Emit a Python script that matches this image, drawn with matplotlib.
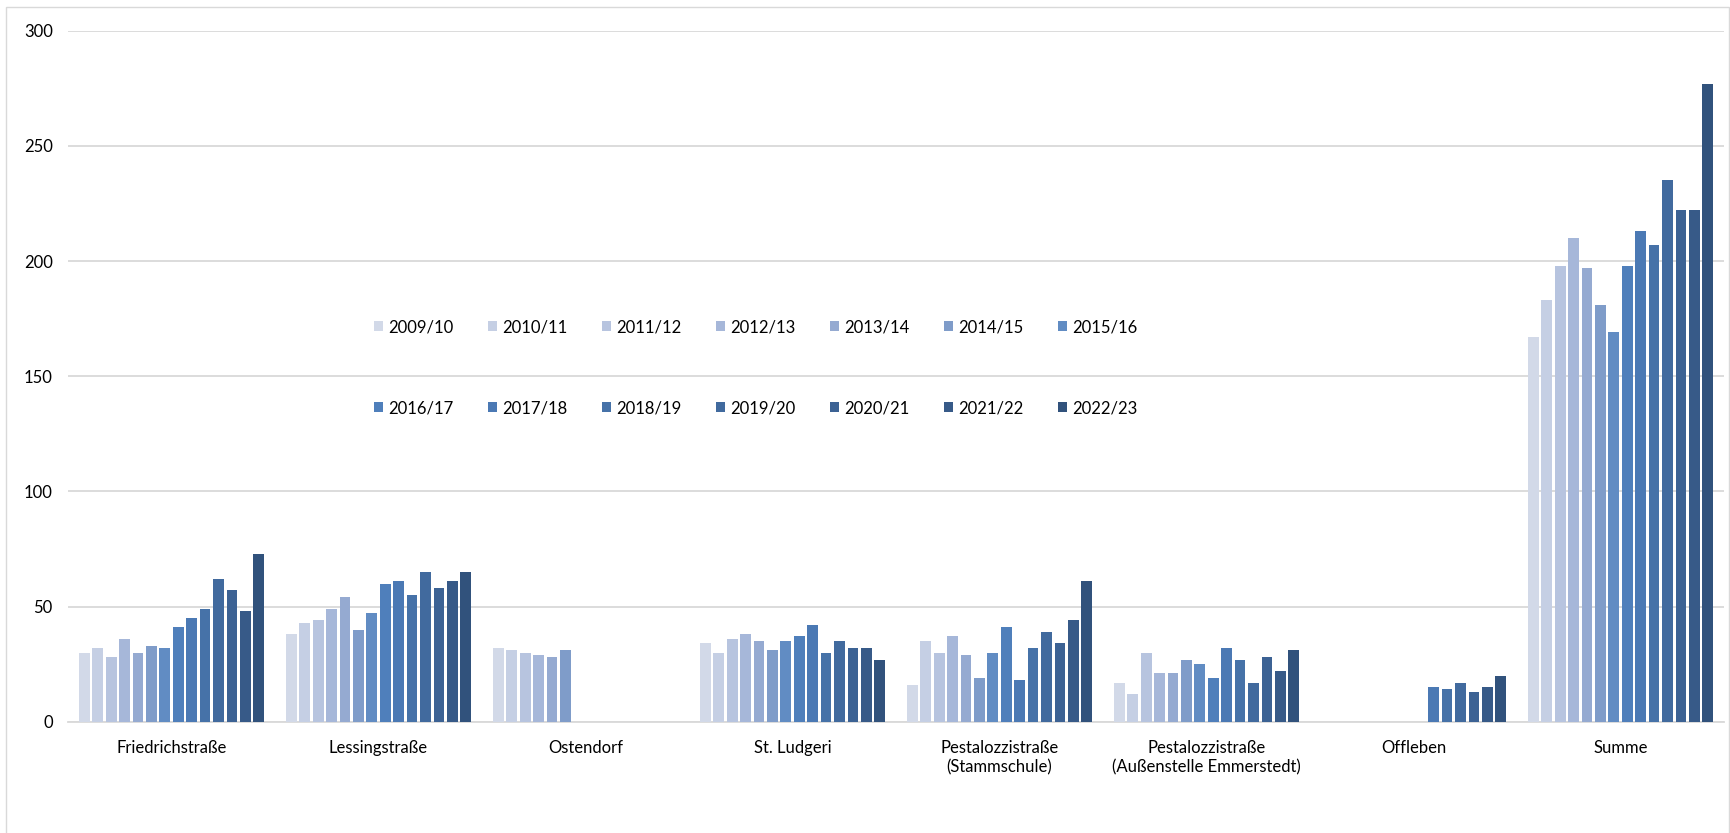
import matplotlib.pyplot as plt
import numpy as np
from matplotlib.patches import Rectangle

plt.rcParams['font.family'] = ['Liberation Sans Narrow', 'Lato', 'DejaVu Sans']

# Schulstandorte
standorte = ['Friedrichstraße', 'Lessingstraße', 'Ostendorf', 'St. Ludgeri',
             'Pestalozzistraße\n(Stammschule)',
             'Pestalozzistraße\n(Außenstelle Emmerstedt)', 'Offleben', 'Summe']

schuljahre = ['2009/10', '2010/11', '2011/12', '2012/13', '2013/14', '2014/15', '2015/16',
              '2016/17', '2017/18', '2018/19', '2019/20', '2020/21', '2021/22', '2022/23']

# Werte je Standort, ein Wert pro Schuljahr (None = kein Balken)
friedrichstrasse = [30, 32, 28, 36, 30, 33, 32, 41, 45, 49, 62, 57, 48, 73]
lessingstrasse = [38, 43, 44, 49, 54, 40, 47, 60, 61, 55, 65, 58, 61, 65]
ostendorf = [32, 31, 30, 29, 28, 31, None, None, None, None, None, None, None, None]
st_ludgeri = [34, 30, 36, 38, 35, 31, 35, 37, 42, 30, 35, 32, 32, 27]
stammschule = [16, 35, 30, 37, 29, 19, 30, 41, 18, 32, 39, 34, 44, 61]
emmerstedt = [17, 12, 30, 21, 21, 27, 25, 19, 32, 27, 17, 28, 22, 31]
offleben = [None, None, None, None, None, None, None, None, 15, 14, 17, 13, 15, 20]
summe = [167, 183, 198, 210, 197, 181, 169, 198, 213, 207, 235, 222, 222, 277]

farben = ['#D2D9E8', '#C5CFE4', '#B7C4DF', '#A6B7D9', '#95AAD1', '#7F9CC9', '#618CC3',
          '#4F7FBB', '#4B79B4', '#4672A8', '#416A9E', '#3C6294', '#375A88', '#31527C']

daten = np.array([friedrichstrasse, lessingstrasse, ostendorf, st_ludgeri,
                  stammschule, emmerstedt, offleben, summe], dtype=float)

fig = plt.figure(figsize=(17.31, 8.33), dpi=100)
ax = fig.add_axes([0.0393, 0.1336, 0.9567, 0.8295])

x = np.arange(len(standorte))
slot = 0.0648
breite = 0.052
handles = []
for i, jahr in enumerate(schuljahre):
    werte = np.nan_to_num(daten[:, i])
    b = ax.bar(x + (i - 6.5) * slot, werte, width=breite, color=farben[i],
               label=jahr, zorder=3)
    handles.append(b)

ax.set_xlim(-0.5, 7.5)
ax.set_ylim(0, 300)
ax.set_yticks(range(0, 301, 50))
ax.yaxis.grid(True, color='#D9D9D9', linewidth=1.3, zorder=0)
ax.set_axisbelow(True)
for s in ['top', 'right', 'left']:
    ax.spines[s].set_visible(False)
ax.spines['bottom'].set_color('#D9D9D9')
ax.spines['bottom'].set_linewidth(1.3)
ax.tick_params(axis='both', length=0, labelsize=12, colors='black')
ax.tick_params(axis='y', pad=11)
ax.tick_params(axis='x', pad=13)
ax.set_xticks(x)
ax.set_xticklabels(standorte, linespacing=1.3)

# Legende: zwei Zeilen mit je 7 Einträgen
reihenfolge = []
for k in range(7):
    reihenfolge += [k, k + 7]
fig.legend([handles[k] for k in reihenfolge], [schuljahre[k] for k in reihenfolge],
           ncol=7, loc='upper left', bbox_to_anchor=(0.211, 0.627), frameon=False,
           fontsize=12, handlelength=0.55, handleheight=0.55, handletextpad=0.3,
           columnspacing=2.08, labelspacing=3.9, borderpad=0)

# Rahmen des Diagrammbereichs
fig.patches.append(Rectangle((6 / 1731, -0.01), 1 - 8 / 1731, 1 - 7 / 833 + 0.01,
                             transform=fig.transFigure, fill=False,
                             edgecolor='#D9D9D9', linewidth=1.0))

plt.savefig('out.png', dpi=100)
